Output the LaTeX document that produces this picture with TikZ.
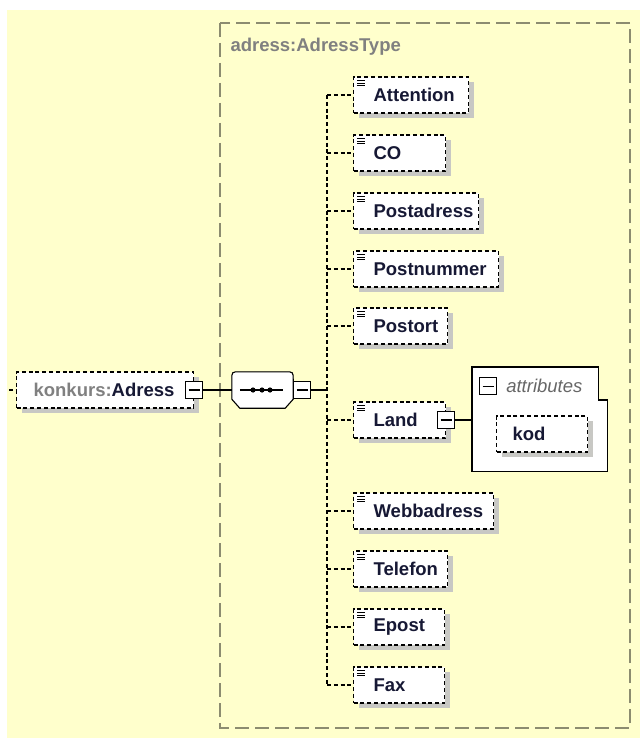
\documentclass[tikz,border=0pt]{standalone}
\usepackage{fontspec}
\setmainfont{Liberation Sans}
\usetikzlibrary{positioning,shadows,calc}
\definecolor{paper}{RGB}{255,255,204}
\definecolor{frame}{RGB}{140,140,112}
\definecolor{ink}{RGB}{22,24,52}
\definecolor{dimtext}{RGB}{128,128,128}
\definecolor{shade}{RGB}{200,200,196}
\newcommand\elemicon[1]{\foreach \k in {0,1,2}{\draw[line width=0.9pt] ($(#1.north west)+(4,4+2.6*\k)$) -- ++(8,0);}}
\newcommand\seqoutline{($(seq.south west)+(8,0)$) -- ($(seq.south west)+(0,-9)$) -- ($(seq.north west)+(0,8)$) .. controls (seq.north west) .. ($(seq.north west)+(8,0)$) -- ($(seq.north east)+(-8,0)$) .. controls (seq.north east) .. ($(seq.north east)+(0,8)$) -- ($(seq.south east)+(0,-9)$) -- ($(seq.south east)+(-8,0)$) -- cycle}

\begin{document}
\begin{tikzpicture}[x=1pt,y=-1pt,
  txt/.style={font=\fontsize{18.5}{20}\selectfont\bfseries,text=ink},
  elem/.style={txt,draw,fill=white,line width=1.2pt,dash pattern=on 4pt off 2.8pt,
    minimum height=36pt,inner xsep=0pt,inner ysep=0pt,align=left,anchor=west,
    drop shadow={shadow xshift=5pt,shadow yshift=-5pt,fill=shade,opacity=1}},
  minus/.style={draw,fill=white,line width=1.1pt,minimum size=17pt,inner sep=0pt,
    path picture={\draw[line width=1.1pt] ([xshift=3pt]path picture bounding box.west) -- ([xshift=-3pt]path picture bounding box.east);}},
  conn/.style={line width=1.2pt,dash pattern=on 4pt off 2.8pt},
  link/.style={line width=1.1pt}]
\useasboundingbox (0,0) rectangle (640,738);
\fill[white] (0,0) rectangle (640,738);
\fill[paper] (7,10) rectangle (640,738);

% complex type frame
\draw[frame,line width=1.2pt,dash pattern=on 14pt off 6pt] (220,23) rectangle (630,728);
\node[anchor=west,font=\fontsize{18.5}{20}\selectfont\bfseries,text=dimtext] (tname) at (227,47) {adress:AdressType};

% root element
\node[elem,text width=177pt] (root) at (16,390) {\hspace*{17pt}{\color{dimtext}konkurs:}Adress};
\node[minus] (rootm) at (root.east) {};
\coordinate (rootin) at (9,390);
\draw[conn] (rootin) -- (root.west);

% sequence
\node[minimum width=61pt,minimum height=36pt,inner sep=0pt] (seq) at (262.5,390) {};
\begin{scope}[shift={(5,5)}]
  \fill[shade] \seqoutline;
\end{scope}
\filldraw[fill=white,link] \seqoutline;
\draw[link] ($(seq.west)+(8,0)$) -- ($(seq.east)+(-10,0)$);
\foreach \dx in {-9.5,-0.5,7.5}
  \fill ($(seq.center)+(\dx,0)$) circle (2.6pt);
\node[minus,anchor=west] (seqm) at (seq.east) {};
\draw[link] (rootm.east) -- (seq.west);
\coordinate (spine) at (327,390);
\draw[link] (seqm.east) -- (spine);

% children
\foreach \n/\t/\y/\w in {att/Attention/95/115,co/CO/153/92,padr/Postadress/211/125,pnr/Postnummer/269/145,port/Postort/326/94,land/Land/420/92,web/Webbadress/511/140,tel/Telefon/569/94,epost/Epost/627/91,fax/Fax/685/91}{
  \node[elem,text width=\w pt] (\n) at (353,\y) {\hspace*{20pt}\t};
  \elemicon{\n}
  \draw[conn] (spine |- \n.west) -- (\n.west);
}
\draw[conn] (spine |- att.west) -- (spine |- fax.west);

% attributes of Land
\node[minus] (landm) at (land.east) {};
\node[anchor=north west,minimum width=135pt,minimum height=104pt,inner sep=0pt] (attrs) at (472,367) {};
\filldraw[fill=white,link] (attrs.south west) -- (attrs.north west) -- ($(attrs.north east)+(-9,0)$) -- ($(attrs.north east)+(-9,33)$) -- ($(attrs.north east)+(0,33)$) -- (attrs.south east) -- cycle;
\node[minus,anchor=north west] (attrm) at ($(attrs.north west)+(7,10)$) {};
\node[anchor=west,font=\fontsize{18.5}{20}\selectfont\itshape,text=dimtext!80!black,inner sep=0pt] (attrt) at ($(attrm.east)+(9,0)$) {attributes};
\draw[link] (landm.east) -- (attrs.west |- landm.east);
\node[elem,text width=91pt] (kod) at (496,434) {\hspace*{16pt}kod};
\end{tikzpicture}
\end{document}
